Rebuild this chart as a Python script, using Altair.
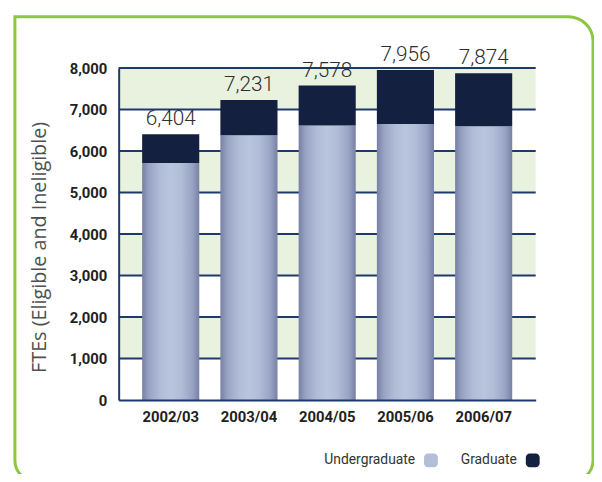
import altair as alt
import pandas as pd

years = ["2002/03", "2003/04", "2004/05", "2005/06", "2006/07"]
undergraduate = [5710, 6380, 6615, 6650, 6600]
graduate = [694, 851, 963, 1306, 1274]
totals = [6404, 7231, 7578, 7956, 7874]
y_ticks = [0, 1000, 2000, 3000, 4000, 5000, 6000, 7000, 8000]
band_lo = [1000, 3000, 5000, 7000]
band_hi = [2000, 4000, 6000, 8000]
legend_names = ["Undergraduate", "Graduate"]
legend_colors = ["#b3bfd8", "#13203f"]

df = pd.DataFrame({
    "year": years,
    "under": undergraduate,
    "grad": graduate,
    "total": totals,
})
df["label"] = [f"{t:,}" for t in totals]
bands = pd.DataFrame({"lo": band_lo, "hi": band_hi})
ticks = pd.DataFrame({"v": y_ticks})
one = pd.DataFrame({"k": [0]})

W, H = 422, 336
NAVY = "#1d3a6e"
COND = "Roboto, sans-serif"

xs = alt.Scale(domain=years, paddingInner=0.27, paddingOuter=0.3)
ys = alt.Scale(domain=[0, 8000], nice=False)

xenc = alt.X("year:N", scale=xs, sort=years,
             axis=alt.Axis(title=None, labelFont=COND, labelFontWeight="bold",
                           labelFontSize=15, labelColor="#231f20", ticks=False,
                           labelPadding=10, domainColor=NAVY, domainWidth=2,
                           labelAngle=0, zindex=1))

band_layer = alt.Chart(bands).mark_rect(color="#e9f2de").encode(
    x=alt.value(0), x2=alt.value(W),
    y=alt.Y("lo:Q", scale=ys,
            axis=alt.Axis(title="FTEs (Eligible and Ineligible)", values=y_ticks,
                          labelExpr="format(datum.value, ',.0f')",
                          labelFont=COND, labelFontWeight="bold",
                          labelFontSize=15, labelColor="#231f20", ticks=False,
                          labelPadding=12, grid=False, domainColor=NAVY,
                          domainWidth=2, zindex=1,
                          titleFont="Open Sans, sans-serif",
                          titleFontWeight="normal", titleFontSize=20,
                          titleColor="#505050", titleAngle=-90,
                          titleX=-80, titleY=181, titleAlign="center",
                          titleBaseline="middle")),
    y2="hi:Q",
)

rule_layer = alt.Chart(ticks).transform_filter("datum.v > 0").mark_rule(
    color=NAVY, strokeWidth=2).encode(
    x=alt.value(0), x2=alt.value(W), y=alt.Y("v:Q", scale=ys))

grad_fill = alt.LinearGradient(
    gradient="linear",
    stops=[alt.GradientStop(color="#7880a4", offset=0),
           alt.GradientStop(color="#98a3c3", offset=0.12),
           alt.GradientStop(color="#b1bdd7", offset=0.32),
           alt.GradientStop(color="#b9c5dd", offset=0.5),
           alt.GradientStop(color="#b1bdd7", offset=0.68),
           alt.GradientStop(color="#98a3c3", offset=0.88),
           alt.GradientStop(color="#7880a4", offset=1)],
    x1=0, y1=0, x2=1, y2=0,
)

under_layer = alt.Chart(df).mark_bar(fill=grad_fill).encode(
    x=xenc, y=alt.Y("under:Q", scale=ys), y2=alt.datum(0))

grad_layer = alt.Chart(df).transform_calculate(top="datum.under + datum.grad").mark_bar(
    color="#13203f").encode(
    x=alt.X("year:N", scale=xs, sort=years),
    y=alt.Y("under:Q", scale=ys), y2="top:Q")

text_layer = alt.Chart(df).mark_text(
    font=COND, fontSize=21, fontWeight=300, color="#2e2e2e", baseline="bottom",
    dy=-5).encode(
    x=alt.X("year:N", scale=xs, sort=years),
    y=alt.Y("total:Q", scale=ys), text="label:N")

border = alt.Chart(one).mark_rect(
    filled=False, stroke="#8dc63f", strokeWidth=3,
    cornerRadiusTopRight=25, cornerRadiusBottomLeft=21,
    cornerRadiusBottomRight=21).encode(
    x=alt.value(-105), x2=alt.value(480), y=alt.value(-52), y2=alt.value(418))

legend_layers = []
text_right = [300, 403]
for name, col, tx in zip(legend_names, legend_colors, text_right):
    d = pd.DataFrame({"name": [name]})
    legend_layers.append(alt.Chart(d).mark_text(
        font=COND, fontSize=14, color="#333333", align="right",
        baseline="middle").encode(
        x=alt.value(tx), y=alt.value(397), text="name:N"))
    legend_layers.append(alt.Chart(d).mark_rect(
        color=col, cornerRadius=4).encode(
        x=alt.value(tx + 9), x2=alt.value(tx + 23),
        y=alt.value(390), y2=alt.value(404)))

chart = alt.layer(
    band_layer, rule_layer, under_layer, grad_layer, text_layer, border,
    *legend_layers
).properties(
    width=W, height=H,
    autosize=alt.AutoSizeParams(type="none"),
    padding={"left": 112, "top": 58, "right": 59, "bottom": 72},
    background="white",
).configure_view(stroke=None)

chart.save("out.html", embed_options={"renderer": "svg", "actions": False})
